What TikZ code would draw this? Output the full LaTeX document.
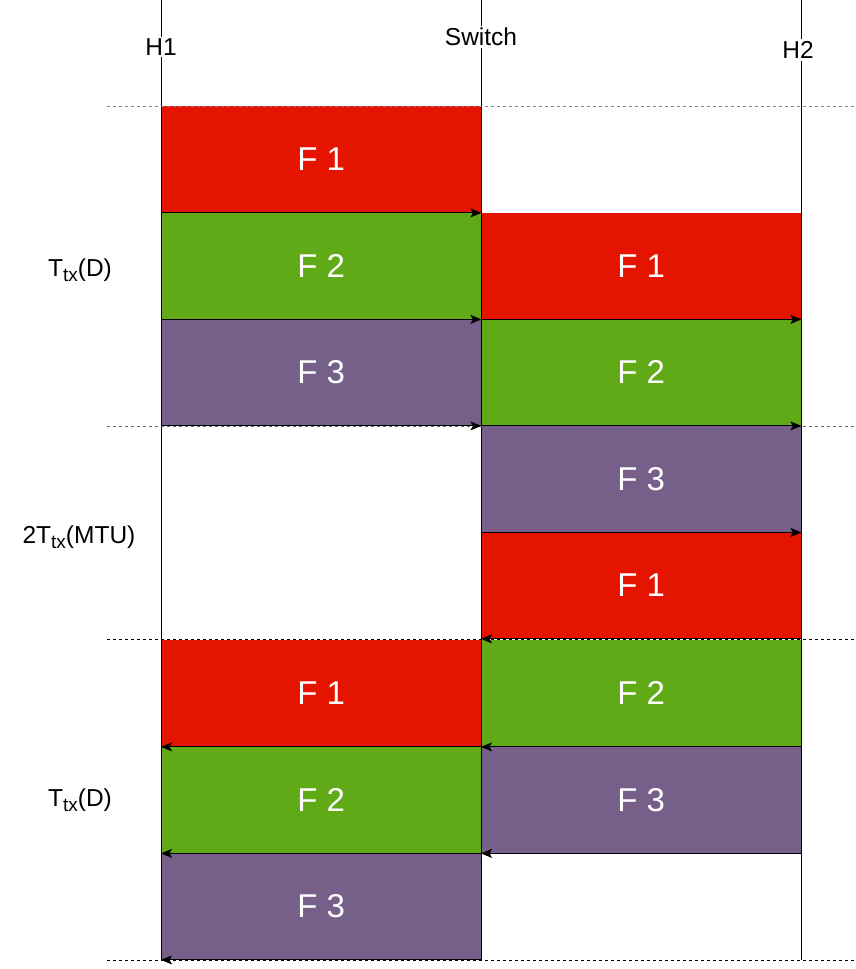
\documentclass[tikz,border=0pt]{standalone}
\usepackage{fontspec}
\setmainfont{Liberation Sans}
\usetikzlibrary{arrows.meta}
\definecolor{fred}{HTML}{E51400}
\definecolor{fgreen}{HTML}{60A917}
\definecolor{fpurple}{HTML}{76608A}
\newcommand{\subtx}{\raisebox{-5pt}{\fontsize{19}{19}\selectfont tx}}
\tikzset{
  frame/.style={minimum width=320pt, minimum height=106.5pt, inner sep=0pt, anchor=north west,
    text=white, font=\fontsize{33}{33}\selectfont},
  redf/.style={frame, fill=fred},
  greenf/.style={frame, fill=fgreen},
  purplef/.style={frame, fill=fpurple},
  life/.style={line width=1pt, black},
  hdr/.style={fill=white, inner sep=2pt, font=\fontsize{24.5}{24.5}\selectfont},
  side/.style={inner sep=0pt, font=\fontsize{24.5}{24.5}\selectfont},
  sep/.style={dashed, line width=0.8pt, dash pattern=on 3pt off 3pt},
  msg/.style={line width=1pt, -{Stealth[length=11pt,width=9pt,inset=2.5pt]}}
}
\begin{document}
\begin{tikzpicture}[x=1pt,y=-1pt]
\useasboundingbox (0,0) rectangle (856,969);
% lifeline endpoints
\coordinate (h1t) at (161,0);   \coordinate (h1b) at (161,960);
\coordinate (swt) at (481,0);   \coordinate (swb) at (481,960);
\coordinate (h2t) at (801,0);   \coordinate (h2b) at (801,960);
% frames: forward
\node[redf]    (a1) at (161,106)   {F 1};
\node[greenf]  (a2) at (161,212.5) {F 2};
\node[purplef] (a3) at (161,319)   {F 3};
\node[redf]    (b1) at (481,212.5) {F 1};
\node[greenf]  (b2) at (481,319)   {F 2};
\node[purplef] (b3) at (481,425.5) {F 3};
\node[redf]    (b4) at (481,532)   {F 1};
% frames: return
\node[redf]    (c1) at (161,640)   {F 1};
\node[greenf]  (c2) at (161,746.5) {F 2};
\node[purplef] (c3) at (161,853)   {F 3};
\node[greenf]  (d2) at (481,640)   {F 2};
\node[purplef] (d3) at (481,746.5) {F 3};
% lifelines
\draw[life] (h1t) -- (h1b);
\draw[life] (swt) -- (swb);
\draw[life] (h2t) -- (h2b);
% separators
\coordinate (s1l) at (107,106);  \coordinate (s1r) at (856,106);
\coordinate (s2l) at (107,426);  \coordinate (s2r) at (856,426);
\coordinate (s3l) at (107,639.5);\coordinate (s3r) at (856,639.5);
\coordinate (s4l) at (107,960);  \coordinate (s4r) at (856,960);
\draw[sep, gray] (s1l) -- (s1r);
\draw[sep, gray!80!black] (s2l) -- (s2r);
\draw[sep, black] (s3l) -- (s3r);
\draw[sep, black] (s4l) -- (s4r);
% headers
\node[hdr] (h1) at (161,47) {H1};
\node[hdr] (sw) at (481,37) {Switch};
\node[hdr] (h2) at (798,50) {H2};
% side labels
\node[side] (t1) at (80,270) {T\subtx(D)};
\node[side] (t2) at (79,537) {2T\subtx(MTU)};
\node[side] (t3) at (80,800) {T\subtx(D)};
% forward messages
\draw[msg] (a1.south west) -- (a1.south east);
\draw[msg] (a2.south west) -- (a2.south east);
\draw[msg] (a3.south west) -- (a3.south east);
\draw[msg] (b1.south west) -- (b1.south east);
\draw[msg] (b2.south west) -- (b2.south east);
\draw[msg] (b3.south west) -- (b3.south east);
% return messages
\draw[msg] (b4.south east) -- (b4.south west);
\draw[msg] (d2.south east) -- (d2.south west);
\draw[msg] (d3.south east) -- (d3.south west);
\draw[msg] (c1.south east) -- (c1.south west);
\draw[msg] (c2.south east) -- (c2.south west);
\draw[msg] (c3.south east) -- (c3.south west);
\end{tikzpicture}
\end{document}
